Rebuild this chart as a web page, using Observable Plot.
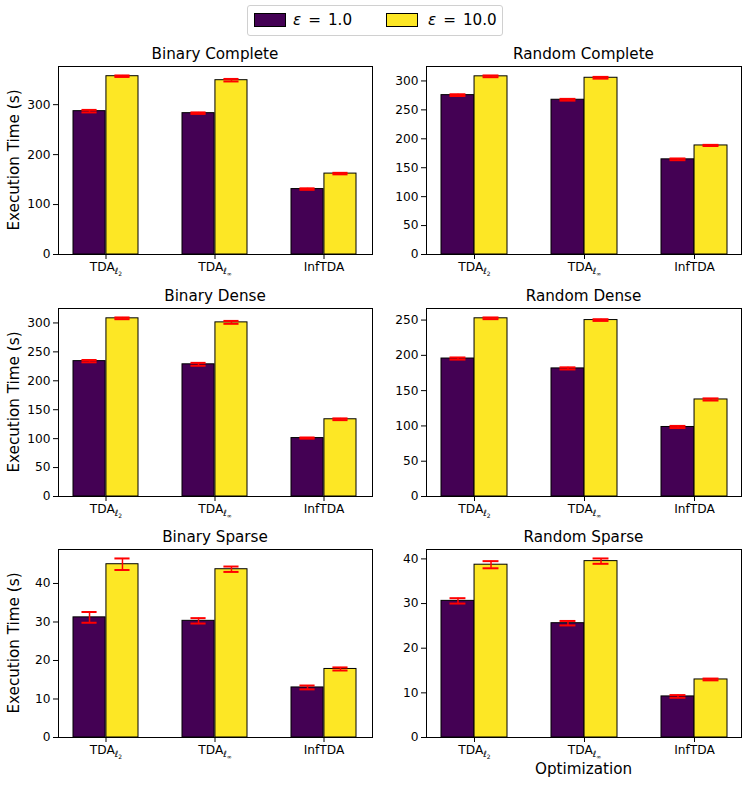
<!DOCTYPE html>
<html><head><meta charset="utf-8">
<script src="https://cdn.jsdelivr.net/npm/d3@7"></script>
<script src="https://cdn.jsdelivr.net/npm/@observablehq/plot@0.6"></script>
<style>
body{margin:0;background:#fff;font-family:"DejaVu Sans",sans-serif;}
#root{position:relative;width:748px;height:785px;overflow:hidden;background:#fff;}
.abs{position:absolute;white-space:nowrap;color:#000;font-family:"DejaVu Sans",sans-serif;}
svg{position:absolute;}
</style></head><body><div id="root"></div>
<script>
// ---- data ----
const categories = ["TDA_l2", "TDA_linf", "InfTDA"];
const epsilonLabels = ["1.0", "10.0"];

const binaryComplete1 = [287, 283, 131];
const binaryComplete10 = [357, 349, 162];
const binaryCompleteErr1 = [2.5, 1.5, 1.5];
const binaryCompleteErr10 = [1.5, 2.5, 1.5];

const randomComplete1 = [275.5, 267.5, 164.5];
const randomComplete10 = [308, 305.5, 188.5];
const randomCompleteErr1 = [1.5, 1.5, 1.5];
const randomCompleteErr10 = [1.5, 1.5, 1.0];

const binaryDense1 = [234, 228.5, 101];
const binaryDense10 = [308, 301, 133.5];
const binaryDenseErr1 = [2, 2.5, 1];
const binaryDenseErr10 = [1.5, 2.5, 1.5];

const randomDense1 = [195.5, 181.5, 98.5];
const randomDense10 = [252.5, 250, 137.5];
const randomDenseErr1 = [1.5, 1.5, 1.5];
const randomDenseErr10 = [1.2, 1.2, 1.5];

const binarySparse1 = [31.2, 30.3, 13.0];
const binarySparse10 = [45.0, 43.7, 17.8];
const binarySparseErr1 = [1.4, 0.7, 0.5];
const binarySparseErr10 = [1.5, 0.7, 0.4];

const randomSparse1 = [30.6, 25.6, 9.2];
const randomSparse10 = [38.7, 39.5, 13.0];
const randomSparseErr1 = [0.6, 0.5, 0.3];
const randomSparseErr10 = [0.8, 0.6, 0.2];

const binaryCompleteTicks = [0, 100, 200, 300];
const randomCompleteTicks = [0, 50, 100, 150, 200, 250, 300];
const binaryDenseTicks = [0, 50, 100, 150, 200, 250, 300];
const randomDenseTicks = [0, 50, 100, 150, 200, 250];
const binarySparseTicks = [0, 10, 20, 30, 40];
const randomSparseTicks = [0, 10, 20, 30, 40];

const tickLabelParts = {TDA_l2: ["TDA", "ℓ", "2"], TDA_linf: ["TDA", "ℓ", "∞"], InfTDA: ["InfTDA"]};

// ---- styling / layout ----
const colors = ["#440154", "#fde725"];
const colX = [[58, 372], [426, 741]];
const rowY = [[66, 254], [308, 496], [549, 737]];
const padIn = 0.4, padOut = 0.13, capW = 16;
const FONT = "DejaVu Sans";
const LABEL_SIZE = 15.2, TICK_SIZE = 12.2;

const panels = [
  {title: "Binary Complete", col: 0, row: 0, v1: binaryComplete1, v10: binaryComplete10, s1: binaryCompleteErr1, s10: binaryCompleteErr10, ticks: binaryCompleteTicks},
  {title: "Random Complete", col: 1, row: 0, v1: randomComplete1, v10: randomComplete10, s1: randomCompleteErr1, s10: randomCompleteErr10, ticks: randomCompleteTicks},
  {title: "Binary Dense", col: 0, row: 1, v1: binaryDense1, v10: binaryDense10, s1: binaryDenseErr1, s10: binaryDenseErr10, ticks: binaryDenseTicks},
  {title: "Random Dense", col: 1, row: 1, v1: randomDense1, v10: randomDense10, s1: randomDenseErr1, s10: randomDenseErr10, ticks: randomDenseTicks},
  {title: "Binary Sparse", col: 0, row: 2, v1: binarySparse1, v10: binarySparse10, s1: binarySparseErr1, s10: binarySparseErr10, ticks: binarySparseTicks},
  {title: "Random Sparse", col: 1, row: 2, v1: randomSparse1, v10: randomSparse10, s1: randomSparseErr1, s10: randomSparseErr10, ticks: randomSparseTicks}
];

const root = document.getElementById("root");
// baseline offset inside a 20px line box
const BASE = (20 - 1.164 * LABEL_SIZE) / 2 + 0.928 * LABEL_SIZE;

function addText(txt, cx, baseline, opts = {}) {
  const w = opts.width || 300;
  const d = document.createElement("div");
  d.className = "abs";
  d.textContent = txt;
  d.style.fontSize = LABEL_SIZE + "px";
  d.style.lineHeight = "20px";
  d.style.height = "20px";
  d.style.width = w + "px";
  d.style.textAlign = "center";
  d.style.left = (cx - w / 2) + "px";
  d.style.top = (baseline - BASE) + "px";
  root.appendChild(d);
  return d;
}
function addYLabel(txt, baselineX, cy) {
  const w = 220;
  const d = document.createElement("div");
  d.className = "abs";
  d.textContent = txt;
  d.style.fontSize = LABEL_SIZE + "px";
  d.style.lineHeight = "20px";
  d.style.height = "20px";
  d.style.width = w + "px";
  d.style.textAlign = "center";
  const cx = baselineX - (BASE - 10);
  d.style.left = (cx - w / 2) + "px";
  d.style.top = (cy - 10) + "px";
  d.style.transform = "rotate(-90deg)";
  d.style.transformOrigin = "50% 50%";
  root.appendChild(d);
}

function drawPanel(p) {
  const [fx0, fx1] = colX[p.col], [fy0, fy1] = rowY[p.row];
  const fw = fx1 - fx0, fh = fy1 - fy0;
  const mL = 50, mR = 6, mT = 6, mB = 26;
  const rows = categories.map((c, i) => ({cat: c, v1: p.v1[i], s1: p.s1[i], v10: p.v10[i], s10: p.s10[i]}));
  const ymax = d3.max(rows, d => Math.max(d.v1 + d.s1, d.v10 + d.s10)) * 1.05;
  const step = fw / (categories.length - padIn + 2 * padOut);
  const bw = step * (1 - padIn), half = bw / 2, capInset = (bw - capW) / 2;
  const errMarks = [];
  [["v1", "s1", -half / 2], ["v10", "s10", half / 2]].forEach(([v, s, off]) => {
    errMarks.push(Plot.ruleX(rows, {x: "cat", y1: d => d[v] - d[s], y2: d => d[v] + d[s], dx: off, stroke: "red", strokeWidth: 1.5}));
    errMarks.push(Plot.tickY(rows, {x: "cat", y: d => d[v] - d[s], dx: off, insetLeft: capInset, insetRight: capInset, stroke: "red", strokeWidth: 2}));
    errMarks.push(Plot.tickY(rows, {x: "cat", y: d => d[v] + d[s], dx: off, insetLeft: capInset, insetRight: capInset, stroke: "red", strokeWidth: 2}));
  });
  const chart = Plot.plot({
    width: mL + fw + mR, height: mT + fh + mB,
    marginLeft: mL, marginRight: mR, marginTop: mT, marginBottom: mB,
    style: {fontFamily: FONT, fontSize: TICK_SIZE + "px", color: "#000", background: "transparent", overflow: "visible"},
    x: {type: "band", domain: categories, paddingInner: padIn, paddingOuter: padOut},
    y: {domain: [0, ymax]},
    marks: [
      Plot.barY(rows, {x: "cat", y: "v1", insetRight: half, fill: colors[0], stroke: "#000", strokeWidth: 1}),
      Plot.barY(rows, {x: "cat", y: "v10", insetLeft: half, fill: colors[1], stroke: "#000", strokeWidth: 1}),
      ...errMarks,
      Plot.axisX({tickSize: 5, tickPadding: 3, label: null, tickFormat: d => tickLabelParts[d].join("")}),
      Plot.axisY({ticks: p.ticks, tickSize: 5, tickPadding: 3, label: null, tickFormat: d => String(d)}),
      Plot.frame({stroke: "#000", strokeWidth: 1})
    ]
  });
  chart.style.left = (fx0 - mL) + "px";
  chart.style.top = (fy0 - mT) + "px";
  root.appendChild(chart);

  // subscripts on tick labels
  chart.querySelectorAll('g[aria-label="x-axis tick label"] text').forEach(t => {
    const key = Object.keys(tickLabelParts).find(k => tickLabelParts[k].join("") === t.textContent);
    if (!key) return;
    const parts = tickLabelParts[key];
    if (parts.length < 2) return;
    while (t.firstChild) t.removeChild(t.firstChild);
    const ns = "http://www.w3.org/2000/svg";
    const a = document.createElementNS(ns, "tspan"); a.textContent = parts[0]; t.appendChild(a);
    const b = document.createElementNS(ns, "tspan"); b.textContent = parts[1]; b.setAttribute("font-size", "8.5px"); b.setAttribute("dy", "3"); t.appendChild(b);
    const c = document.createElementNS(ns, "tspan"); c.textContent = parts[2]; c.setAttribute("font-size", "6px"); c.setAttribute("dy", "1.5"); t.appendChild(c);
  });

  addText(p.title, (fx0 + fx1) / 2, fy0 - 6.7);
  if (p.col === 0) addYLabel("Execution Time (s)", 19.5, (fy0 + fy1) / 2);
  if (p.col === 1 && p.row === 2) addText("Optimization", (fx0 + fx1) / 2, 774);
}

panels.forEach(drawPanel);

// legend
const leg = document.createElement("div");
leg.className = "abs";
Object.assign(leg.style, {left: "247px", top: "5px", width: "256px", height: "31px", boxSizing: "border-box",
  border: "1px solid #d0d0d0", borderRadius: "3px", background: "#fff"});
root.appendChild(leg);
const legPos = [{sw: 6, tx: 45}, {sw: 138, tx: 180}];
epsilonLabels.forEach((lab, i) => {
  const sw = document.createElement("div");
  Object.assign(sw.style, {position: "absolute", left: legPos[i].sw + "px", top: "7px", width: "32px", height: "14px",
    boxSizing: "border-box", border: "1px solid #000", background: colors[i]});
  leg.appendChild(sw);
  const tx = document.createElement("div");
  Object.assign(tx.style, {position: "absolute", left: legPos[i].tx + "px", top: "3px", lineHeight: "22px",
    fontSize: LABEL_SIZE + "px", fontFamily: FONT, whiteSpace: "nowrap"});
  tx.innerHTML = '<span style="font-style:italic">ε</span><span style="margin:0 7px">=</span>' + lab;
  leg.appendChild(tx);
});
</script></body></html>
